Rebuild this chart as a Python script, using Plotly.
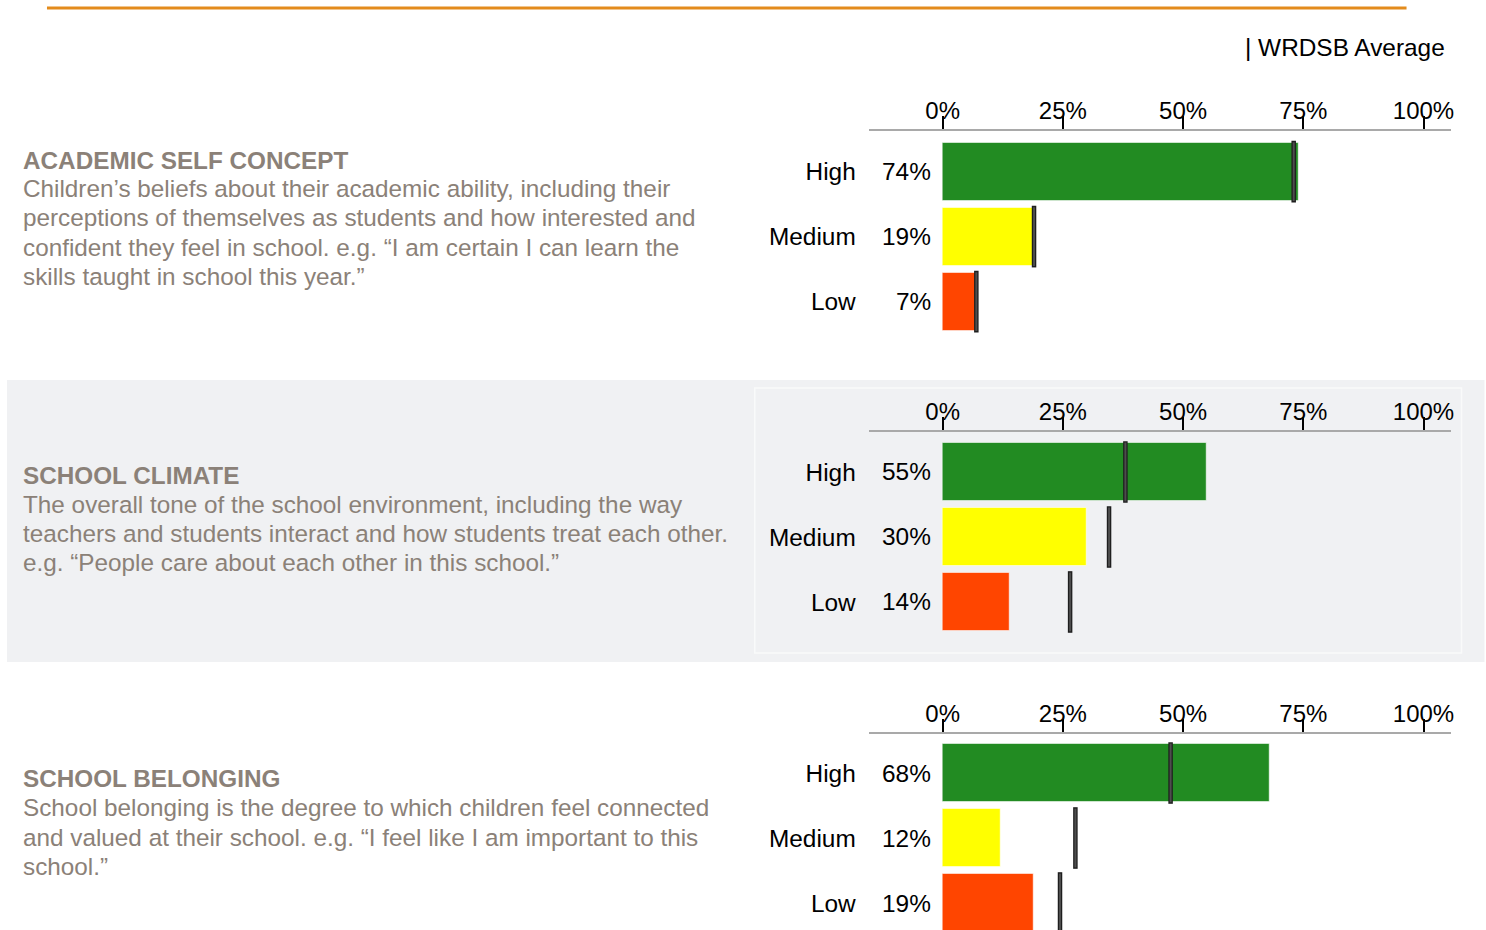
import plotly.graph_objects as go

W, H = 1486, 930

# ---- data -------------------------------------------------------------
levels = ["High", "Medium", "Low"]
level_colors = ["#228B22", "#FFFF00", "#FF4500"]
tick_vals = [0, 25, 50, 75, 100]
tick_text = ["0%", "25%", "50%", "75%", "100%"]

academic_pct = [74, 19, 7]
academic_avg = [73, 19, 7]

climate_pct = [55, 30, 14]
climate_avg = [38, 34.6, 26.5]

belonging_pct = [68, 12, 19]
belonging_avg = [47.4, 27.6, 24.4]

academic_title = "ACADEMIC SELF CONCEPT"
academic_text = [
    "Children’s beliefs about their academic ability, including their",
    "perceptions of themselves as students and how interested and",
    "confident they feel in school. e.g. “I am certain I can learn the",
    "skills taught in school this year.”",
]
climate_title = "SCHOOL CLIMATE"
climate_text = [
    "The overall tone of the school environment, including the way",
    "teachers and students interact and how students treat each other.",
    "e.g. “People care about each other in this school.”",
]
belonging_title = "SCHOOL BELONGING"
belonging_text = [
    "School belonging is the degree to which children feel connected",
    "and valued at their school. e.g. “I feel like I am important to this",
    "school.”",
]

legend_text = "| WRDSB Average"

# ---- layout helpers ----------------------------------------------------
FONT = "Liberation Sans, Arial, sans-serif"
TAUPE = "#8b8178"
TEXT_SIZE = 24.3
LABEL_SIZE = 24.4
XSCALE = 1486 / 1482.5   # small horizontal correction for the page's rendered width


def px_x(x):
    return x * XSCALE / W


def px_y(y):
    return 1 - y / H


PITCH = 65.0          # pixels per category row
X_LEFT, X_RIGHT = 869, 1451
X_ZERO, X_FULL = 943, 1424
px_per_pct = (X_FULL - X_ZERO) / 100.0
x_range = [-(X_ZERO - X_LEFT) / px_per_pct, 100 + (X_RIGHT - X_FULL) / px_per_pct]

panels = [
    dict(axis=131, off=0.625, bottom=345, ty=160, ly=188.5, gap=29.3, pct=academic_pct,
         avg=academic_avg, title=academic_title, text=academic_text),
    dict(axis=432, off=0.615, bottom=645, ty=475, ly=504.5, gap=29.2, pct=climate_pct,
         avg=climate_avg, title=climate_title, text=climate_text),
    dict(axis=734, off=0.600, bottom=930, ty=778, ly=807.5, gap=29.5, pct=belonging_pct,
         avg=belonging_avg, title=belonging_title, text=belonging_text),
]

fig = go.Figure()
annotations = []
layout_axes = {}
n = len(panels)

for i, p in enumerate(panels, start=1):
    xa, ya = f"x{i}", f"y{i}"
    rows_bottom = (p["bottom"] - p["axis"]) / PITCH - p["off"]

    fig.add_trace(go.Bar(
        x=p["pct"], y=levels, orientation="h", width=0.89,
        marker=dict(color=level_colors, line=dict(color="rgba(255,255,255,0.55)", width=1)),
        xaxis=xa, yaxis=ya, showlegend=False, hoverinfo="skip",
    ))
    # board average markers: dark outline with a grey core
    fig.add_trace(go.Scatter(
        x=p["avg"], y=levels, mode="markers",
        marker=dict(symbol="line-ns", size=44, line=dict(color="#1e1e1e", width=4.5)),
        xaxis=xa, yaxis=ya, showlegend=False, hoverinfo="skip",
    ))
    fig.add_trace(go.Scatter(
        x=p["avg"], y=levels, mode="markers",
        marker=dict(symbol="line-ns", size=42, line=dict(color="#4d4d4d", width=2)),
        xaxis=xa, yaxis=ya, showlegend=False, hoverinfo="skip",
    ))

    x_domain = [px_x(X_LEFT), px_x(X_RIGHT)]
    # axis carrying the line and the tick marks
    layout_axes[f"xaxis{i}"] = dict(
        domain=x_domain, range=x_range, anchor=ya, side="top",
        tickvals=tick_vals, ticks="outside", ticklen=13, tickwidth=1.5,
        tickcolor="#000", showticklabels=False, showline=True, linecolor="#a9a9a9",
        linewidth=2, showgrid=False, zeroline=False, fixedrange=True,
    )
    # twin axis carrying the percentage tick labels, sitting close to the line
    layout_axes[f"xaxis{i + n}"] = dict(
        domain=x_domain, range=x_range, anchor=ya, side="top", overlaying=xa,
        tickvals=tick_vals, ticktext=tick_text, ticks="", showline=False,
        showgrid=False, zeroline=False, ticklabelstandoff=6,
        tickfont=dict(family=FONT, size=24, color="#000"), fixedrange=True,
    )
    layout_axes[f"yaxis{i}"] = dict(
        domain=[px_y(p["bottom"]), px_y(p["axis"])], type="category", categoryarray=levels,
        categoryorder="array", range=[rows_bottom, -p["off"]], anchor=xa,
        showline=False, showgrid=False, zeroline=False, ticks="",
        tickfont=dict(family=FONT, size=LABEL_SIZE, color="#000"), ticklabelstandoff=12,
        fixedrange=True,
    )

    # value labels next to each bar
    for j, v in enumerate(p["pct"]):
        annotations.append(dict(
            xref=xa, yref=ya, x=-2.1, y=j, text=f"{v}%", showarrow=False,
            xanchor="right", yanchor="middle",
            font=dict(family=FONT, size=LABEL_SIZE, color="#000"),
        ))

    # descriptive text on the left
    annotations.append(dict(
        xref="paper", yref="paper", x=px_x(21), y=px_y(p["ty"]), text=f"<b>{p['title']}</b>",
        showarrow=False, xanchor="left", yanchor="middle",
        font=dict(family=FONT, size=TEXT_SIZE, color=TAUPE),
    ))
    for k, line in enumerate(p["text"]):
        annotations.append(dict(
            xref="paper", yref="paper", x=px_x(21), y=px_y(p["ly"] + k * p["gap"]), text=line,
            showarrow=False, xanchor="left", yanchor="middle",
            font=dict(family=FONT, size=TEXT_SIZE, color=TAUPE),
        ))

# a placeholder trace on each label axis so it is drawn
for i in range(1, n + 1):
    fig.add_trace(go.Scatter(x=[None], y=[None], xaxis=f"x{i + n}", yaxis=f"y{i}",
                             showlegend=False, hoverinfo="skip"))

annotations.append(dict(
    xref="paper", yref="paper", x=px_x(1447.5), y=px_y(47), text=legend_text, showarrow=False,
    xanchor="right", yanchor="middle", font=dict(family=FONT, size=LABEL_SIZE, color="#000"),
))

shapes = [
    # orange rule across the top
    dict(type="line", xref="paper", yref="paper", x0=px_x(47), x1=px_x(1407),
         y0=px_y(8), y1=px_y(8), line=dict(color="#E38B1C", width=3)),
    # grey band behind the middle section
    dict(type="rect", xref="paper", yref="paper", x0=px_x(7), x1=px_x(1485),
         y0=px_y(662), y1=px_y(380), fillcolor="#F0F1F3", line=dict(width=0), layer="below"),
    dict(type="rect", xref="paper", yref="paper", x0=px_x(755), x1=px_x(1462),
         y0=px_y(653), y1=px_y(388), fillcolor="rgba(0,0,0,0)",
         line=dict(color="#F9FAFA", width=1.5), layer="below"),
]

fig.update_layout(
    width=W, height=H, margin=dict(l=0, r=0, t=0, b=0),
    paper_bgcolor="#FFFFFF", plot_bgcolor="rgba(0,0,0,0)",
    bargap=0, showlegend=False, annotations=annotations, shapes=shapes,
    font=dict(family=FONT), **layout_axes,
)

fig.write_html("out.html", config={"displayModeBar": False})
